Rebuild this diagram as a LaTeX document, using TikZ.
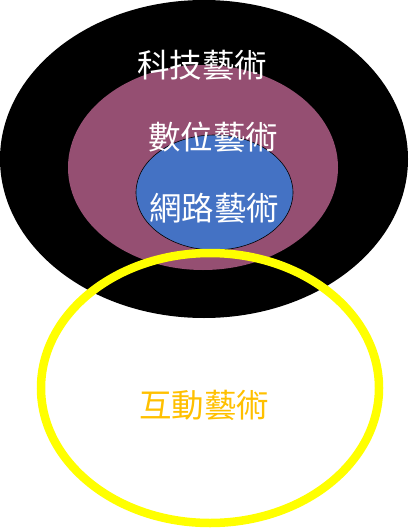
\documentclass[tikz,border=0pt]{standalone}
\usepackage{fontspec}
\usepackage{xcolor}
\usepackage{tikz}
\usetikzlibrary{shapes.geometric,positioning}
\newfontfamily\tcfont{Noto Sans CJK TC}
\definecolor{artblack}{RGB}{0,0,0}
\definecolor{artplum}{RGB}{149,79,114}
\definecolor{artblue}{RGB}{68,114,196}
\definecolor{artyellow}{RGB}{255,255,0}
\definecolor{artgold}{RGB}{255,192,0}
\tikzset{
  blob/.style  ={ellipse, inner sep=0pt, outer sep=0pt},
  lbl/.style   ={font=\tcfont\fontsize{32.5}{38}\selectfont, text=white, inner sep=0pt},
  ring/.style  ={ellipse, inner sep=0pt, outer sep=0pt, draw=artyellow, line width=8.5pt}
}
\begin{document}
\begin{tikzpicture}[x=1pt,y=-1pt]
\useasboundingbox (0,0) rectangle (408,530);
% Nested ellipses (outer = technology art)
\node[blob, fill=artblack, minimum width=408pt, minimum height=318pt] (tech) at (204,159) {};
\node[blob, fill=artplum, minimum width=270pt, minimum height=205pt] (digi) at (203,167.5) {};
\node[blob, fill=artblue, draw=black, line width=0.6pt,
      minimum width=157pt, minimum height=115pt] (net) at (214.5,192.5) {};
% Interaction art, drawn on top with no fill
\node[ring, minimum width=338pt, minimum height=270pt] (inter) at (210,388) {};

% Labels
\node[lbl] (techl) at (202,65) {科技藝術};
\node[lbl] (digil) at (213,137) {數位藝術};
\node[lbl] (netl)  at (214,208) {網路藝術};
\node[lbl, text=artgold] (interl) at (204,405) {互動藝術};
\end{tikzpicture}
\end{document}
